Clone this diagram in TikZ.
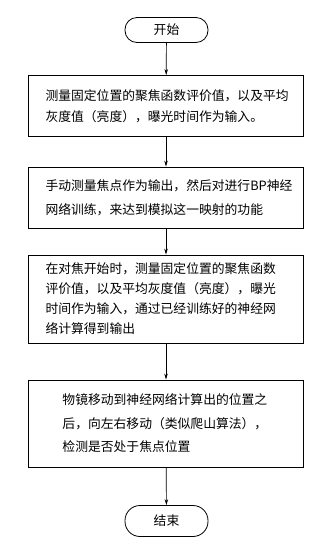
\documentclass[tikz,border=0pt]{standalone}
\usepackage{fontspec}
\newfontfamily\cjk{Noto Sans CJK SC}
\usetikzlibrary{arrows.meta}
\begin{document}
\begin{tikzpicture}[x=1pt,y=-1pt,
  font=\cjk\fontsize{12.8}{21}\selectfont,
  stepbox/.style={draw,line width=0.8pt,minimum width=275pt,inner xsep=17pt,
    text width=241pt,align=left},
  term/.style={draw,line width=0.8pt,minimum width=83pt,rounded corners=12pt},
  flow/.style={-{Stealth[length=6pt,width=3.5pt]},line width=0.7pt}]
\useasboundingbox (0,0) rectangle (329,542);
\node[term,minimum height=25pt] (start) at (166.5,30) {开始};
\node[stepbox,minimum height=61pt] (meas) at (166,106) {%
  测量固定位置的聚焦函数评价值，以及平均\\灰度值（亮度），曝光时间作为输入。};
\node[stepbox,minimum height=61pt,font=\cjk\fontsize{12.8}{24}\selectfont] (train) at (166,197.5) {%
  手动测量焦点作为输出，然后对进行BP神经\\网络训练，来达到模拟这一映射的功能};
\node[stepbox,minimum height=88pt,font=\cjk\fontsize{12.8}{20}\selectfont] (calc) at (166,299) {%
  在对焦开始时，测量固定位置的聚焦函数\\评价值，以及平均灰度值（亮度），曝光\\时间作为输入，通过已经训练好的神经网\\络计算得到输出};
\node[stepbox,minimum height=87pt,inner xsep=34pt,text width=207pt,
  font=\cjk\fontsize{12.8}{23.5}\selectfont] (move) at (166,423.5) {%
  物镜移动到神经网络计算出的位置之\\后，向左右移动（类似爬山算法），\\检测是否处于焦点位置};
\node[term,minimum height=31pt,rounded corners=15pt] (stop) at (166.5,521) {结束};
% connectors
\draw[flow] (start) -- (meas);
\draw[flow] (meas) -- (train);
\draw[flow] (train) -- (calc);
\draw[flow] (calc) -- (move);
\draw[flow] (move) -- (stop);
\end{tikzpicture}
\end{document}
